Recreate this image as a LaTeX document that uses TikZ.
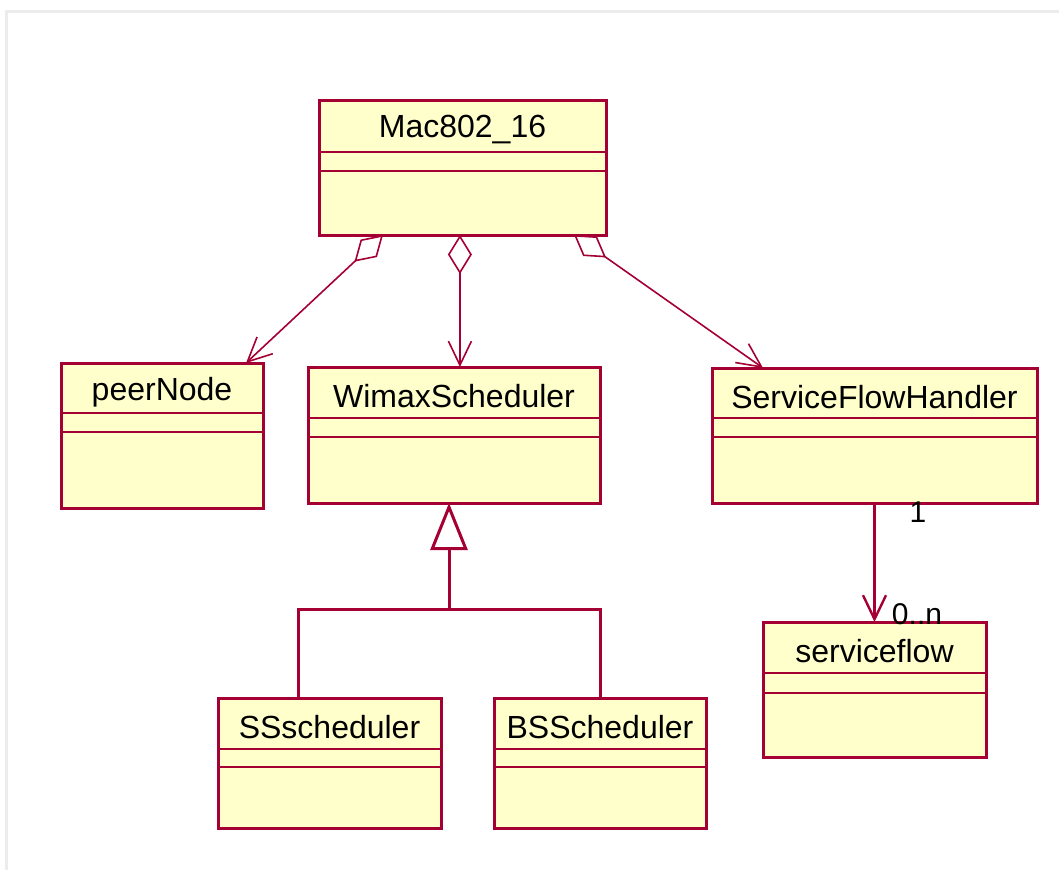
\documentclass[tikz,border=0pt]{standalone}
\usepackage{fontspec}
\setmainfont{Liberation Sans}
\usetikzlibrary{arrows.meta,calc}
\definecolor{umlred}{RGB}{165,0,52}
\definecolor{umlfill}{RGB}{255,255,204}
\definecolor{framegray}{RGB}{236,236,236}
\tikzset{
  classbox/.style={draw=umlred, fill=umlfill, line width=3pt, inner sep=0pt, outer sep=0pt, rectangle},
  sepline/.style={draw=umlred, line width=2.2pt},
  title/.style={inner sep=0pt, font=\fontsize{32}{36}\selectfont, text=black},
  mult/.style={inner sep=0pt, font=\fontsize{30}{34}\selectfont, text=black},
  conn/.style={draw=umlred, line width=1.6pt},
  aggr/.style={conn, {Diamond[open,length=39pt,width=24pt]}-{Straight Barb[length=24pt,width=23pt]}},
  assoc/.style={conn, line width=2.4pt, -{Straight Barb[length=24pt,width=23pt]}},
  gen/.style={draw=umlred, line width=3pt},
  genhead/.style={gen, -{Triangle[open,length=47pt,width=37pt]}},
}
\newcommand\umlclass[8]{%
  \node[classbox, minimum width=#4pt, minimum height=#5pt, anchor=north west] (#1) at (#2,#3) {};
  \draw[sepline] ($(#1.north west)+(0,#6)$) -- ($(#1.north east)+(0,#6)$);
  \draw[sepline] ($(#1.north west)+(0,#7)$) -- ($(#1.north east)+(0,#7)$);
  \node[title] (#1-t) at ($(#1.north)+(0,#6/2+4)$) {#8};
}
\begin{document}
\begin{tikzpicture}[x=1pt,y=-1pt]
\useasboundingbox (0,0) rectangle (1059,870);
\fill[white] (0,0) rectangle (1059,870);
% frame
\draw[framegray, line width=3pt] (6,870) -- (6,11) -- (1059,11);

\umlclass{mac}{319}{100}{287}{135}{52}{71}{Mac802\_16}
\umlclass{peer}{61}{363}{202}{145}{50}{69}{peerNode}
\umlclass{wimax}{308}{367}{292}{136}{51}{70}{WimaxScheduler}
\umlclass{sfh}{712}{368}{325}{135}{50}{69}{ServiceFlowHandler}
\umlclass{ss}{218}{698}{223}{130}{51}{69}{SSscheduler}
\umlclass{bs}{494}{698}{212}{130}{51}{69}{BSScheduler}
\umlclass{sf}{763}{622}{223}{135}{51}{71}{serviceflow}

% aggregations
\draw[aggr] ($(mac.south west)!0.223!(mac.south east)$) -- ($(peer.north west)!0.916!(peer.north east)$);
\coordinate (mmid) at ($(mac.south west)!0.491!(mac.south east)$);
\draw[aggr] (mmid) -- (mmid |- wimax.north);
\draw[aggr] ($(mac.south west)!0.889!(mac.south east)$) -- ($(sfh.north west)!0.157!(sfh.north east)$);

% generalization
\coordinate (junc) at (449,609);
\coordinate (ssA) at ($(ss.north west)!0.359!(ss.north east)$);
\draw[gen] (ssA) |- (junc) -| (bs.north);
\draw[genhead] (junc) -- (junc |- wimax.south);

% association
\draw[assoc] (sfh.south) -- (sf.north);
\node[mult] (m1) at (918,512) {1};
\node[mult] (m2) at (917,614) {0..n};
\end{tikzpicture}
\end{document}
